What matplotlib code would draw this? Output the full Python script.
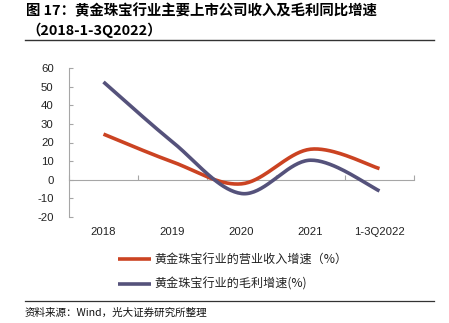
import numpy as np
import matplotlib
matplotlib.use("Agg")
import matplotlib.pyplot as plt
from matplotlib.lines import Line2D

plt.rcParams['font.family'] = ['Liberation Sans', 'Noto Sans CJK SC', 'DejaVu Sans']

categories = ["2018", "2019", "2020", "2021", "1-3Q2022"]
revenue_growth = [24.5, 9.6, -2.2, 16.4, 6.0]
gross_profit_growth = [52.5, 20.3, -7.4, 10.5, -6.0]
series_names = ["黄金珠宝行业的营业收入增速（%）", "黄金珠宝行业的毛利增速(%)"]
y_ticks = [-20, -10, 0, 10, 20, 30, 40, 50, 60]

RED = "#CB4322"
PURPLE = "#55527B"
AXIS = "#A6A6A6"
CJK = ['Noto Sans CJK SC', 'DejaVu Sans']


def smooth(xs, ys, n=40):
    """Excel-style smoothed line: cubic Bezier segments through every point."""
    xs = np.asarray(xs, float)
    ys = np.asarray(ys, float)
    pts = np.column_stack([xs, ys])
    out = [pts[0]]
    m = len(pts)
    for i in range(m - 1):
        p0 = pts[i - 1] if i > 0 else pts[i]
        p1 = pts[i]
        p2 = pts[i + 1]
        p3 = pts[i + 2] if i + 2 < m else pts[i + 1]
        c1 = p1 + (p2 - p0) / 6.0
        c2 = p2 - (p3 - p1) / 6.0
        t = np.linspace(0, 1, n)[1:, None]
        seg = ((1 - t) ** 3) * p1 + 3 * ((1 - t) ** 2) * t * c1 \
            + 3 * (1 - t) * t ** 2 * c2 + t ** 3 * p2
        out.extend(seg)
    out = np.array(out)
    return out[:, 0], out[:, 1]


fig = plt.figure(figsize=(4.49, 3.23), dpi=100)
ax = fig.add_axes([69 / 449, 1 - 217 / 323, 345 / 449, 149 / 323])

x = np.arange(len(categories))
for vals, col in [(revenue_growth, RED), (gross_profit_growth, PURPLE)]:
    sx, sy = smooth(x, vals)
    ax.plot(sx, sy, color=col, lw=2.6, solid_capstyle='butt', zorder=3)

ax.set_xlim(-0.5, len(categories) - 0.5)
ax.set_ylim(-20, 60)
ax.set_yticks(y_ticks)
ax.set_yticklabels([str(v) for v in y_ticks], fontsize=8.2, color="#222222")

for s in ['top', 'right']:
    ax.spines[s].set_visible(False)
ax.spines['left'].set_color(AXIS)
ax.spines['bottom'].set_color(AXIS)
ax.spines['bottom'].set_position(('data', 0))
ax.spines['left'].set_linewidth(0.8)
ax.spines['bottom'].set_linewidth(0.8)

ax.set_xticks(np.arange(-0.5, len(categories), 1.0))
ax.set_xticklabels([])
ax.tick_params(axis='x', direction='in', length=3.5, color=AXIS, width=0.8)
ax.tick_params(axis='y', direction='in', length=3, color=AXIS, width=0.8, pad=11)

for xi, lab in zip(x, categories):
    ax.text(xi, -0.10, lab, transform=ax.get_xaxis_transform(),
            ha='center', va='center', fontsize=8.2, color="#222222")

# title block
fig.text(26 / 449, 1 - 11 / 323, "图 17：黄金珠宝行业主要上市公司收入及毛利同比增速",
         fontsize=10.4, fontweight='bold', family=CJK, ha='left', va='center')
fig.text(26 / 449, 1 - 30 / 323, "（2018-1-3Q2022）",
         fontsize=10.4, fontweight='bold', family=CJK, ha='left', va='center')
fig.add_artist(Line2D([25 / 449, 434 / 449], [1 - 39.5 / 323] * 2,
                      color="#333333", lw=1.0))

# legend
for yy, col, name in [(259, RED, series_names[0]), (284, PURPLE, series_names[1])]:
    fig.add_artist(Line2D([118 / 449, 151 / 449], [1 - yy / 323] * 2,
                          color=col, lw=2.6, solid_capstyle='butt'))
    fig.text(154 / 449, 1 - yy / 323, name, fontsize=8.7, family=CJK,
             ha='left', va='center', color="#222222")

# source note
fig.add_artist(Line2D([25 / 449, 434 / 449], [1 - 301 / 323] * 2,
                      color="#333333", lw=0.9))
fig.text(25 / 449, 1 - 313 / 323, "资料来源：Wind，光大证券研究所整理",
         fontsize=7.6, family=CJK, ha='left', va='center', color="#111111")

fig.savefig("out.png", dpi=100)
